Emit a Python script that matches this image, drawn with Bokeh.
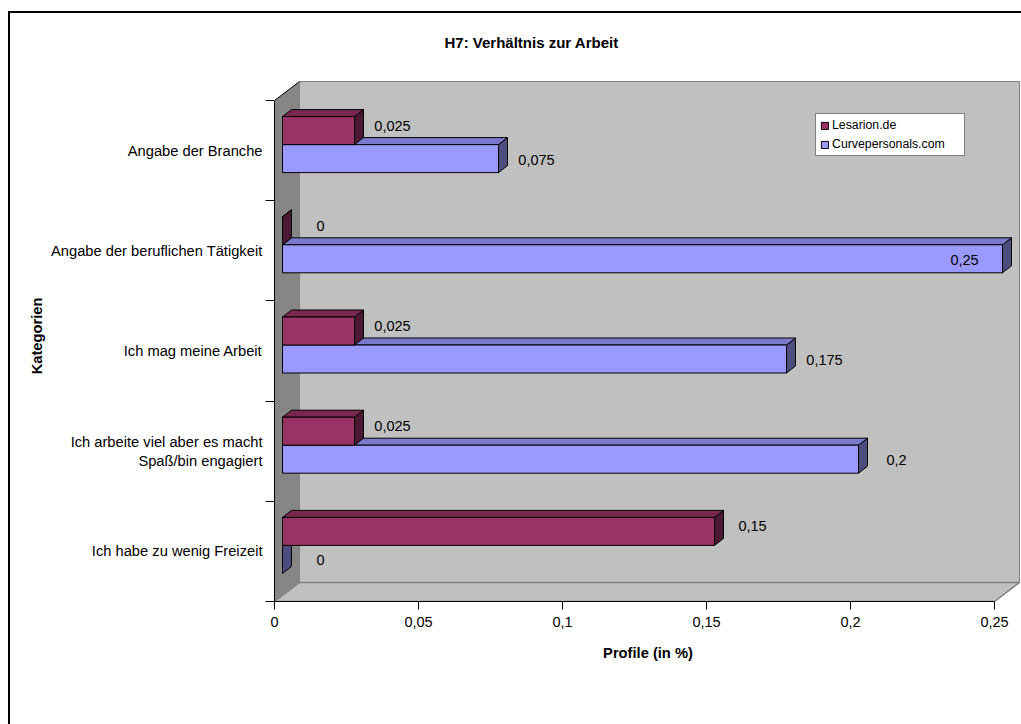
from bokeh.plotting import figure
from bokeh.models import (Range1d, FixedTicker, Legend, LegendItem, ColumnDataSource)
from bokeh.core.properties import value
from bokeh.embed import file_html
from bokeh.resources import INLINE

# ---------------- data ----------------
categories = [
    "Angabe der Branche",
    "Angabe der beruflichen Tätigkeit",
    "Ich mag meine Arbeit",
    "Ich arbeite viel aber es macht\nSpaß/bin engagiert",
    "Ich habe zu wenig Freizeit",
]
lesarion = [0.025, 0.0, 0.025, 0.025, 0.15]
curvepersonals = [0.075, 0.25, 0.175, 0.2, 0.0]
series_names = ["Lesarion.de", "Curvepersonals.com"]
x_ticks = [0.0, 0.05, 0.1, 0.15, 0.2, 0.25]
x_tick_labels = ["0", "0,05", "0,1", "0,15", "0,2", "0,25"]
title_text = "H7: Verhältnis zur Arbeit"
x_title = "Profile (in %)"
y_title = "Kategorien"

# ---------------- layout / style ----------------
W, H = 1021, 724
FL, FT, FB = 274, 70, 601
FR = W
X_MAX = x_ticks[-1]
PX_X = 720 / X_MAX          # pixels per x unit
PX_Y = 100.2                # pixels per category
n = len(categories)
FONT = "Liberation Sans"

def dx(px):
    return px / PX_X

def dy(px):
    return px / PX_Y

WALL = (25, 19)
FRONT = (8, 6)
BACK = (17, 13)
BAR_H = dy(28)

p = figure(width=W, height=H,
           x_range=Range1d(0, (FR - FL) / PX_X),
           y_range=Range1d(0, (FB - FT) / PX_Y),
           min_border_left=FL, min_border_right=0,
           min_border_top=FT, min_border_bottom=H - FB,
           output_backend="svg", toolbar_location=None)
p.outline_line_color = None
p.grid.visible = False
p.background_fill_color = "white"
p.border_fill_color = None
# outer chart-area border (left and top edges; the rest lies outside the window)
p.styles = {
    "background-color": "white",
    "box-shadow": "inset 8px 11px 0 0 white, inset 10px 13px 0 0 black",
}

# ---------------- 3D walls ----------------
p.quad(left=dx(WALL[0]), right=X_MAX + dx(WALL[0]), bottom=dy(WALL[1]), top=n + dy(WALL[1]),
       fill_color="#C0C0C0", line_color="#808080", line_width=1)
p.patch([0, dx(WALL[0]), dx(WALL[0]), 0], [0, dy(WALL[1]), n + dy(WALL[1]), n],
        fill_color="#868686", line_color=None)
p.segment(x0=[0], y0=[n], x1=[dx(WALL[0])], y1=[n + dy(WALL[1])], line_color="black", line_width=1)
p.patch([0, X_MAX, X_MAX + dx(WALL[0]), dx(WALL[0])], [0, 0, dy(WALL[1]), dy(WALL[1])],
        fill_color="#C0C0C0", line_color="#808080", line_width=1.5)

# ---------------- bars ----------------
def scale(c, f):
    c = c.lstrip("#")
    r, g, b = (int(c[i:i + 2], 16) for i in (0, 2, 4))
    return "#%02x%02x%02x" % (int(r * f), int(g * f), int(b * f))

series = [
    # (values, colour, position relative to category centre, label y offset)
    (curvepersonals, "#9999FF", -1, 1),
    (lesarion, "#993366", 0, -5),
]
front_renderers = {}
for vals, col, pos, yoff in series:
    fx, fy = dx(FRONT[0]), dy(FRONT[1])
    bx, by = dx(BACK[0]), dy(BACK[1])
    bottoms = [n - i - 0.5 + pos * BAR_H for i in range(n)]
    tops = [b + BAR_H for b in bottoms]
    # side faces
    side_xs = [[v + fx, v + bx, v + bx, v + fx] for v in vals]
    side_ys = [[b + fy, b + by, t + by, t + fy] for b, t in zip(bottoms, tops)]
    p.patches(side_xs, side_ys, fill_color=scale(col, 0.5), line_color="black", line_width=1)
    # top faces
    top_xs = [[fx, v + fx, v + bx, bx] for v in vals]
    top_ys = [[t + fy, t + fy, t + by, t + by] for t in tops]
    p.patches(top_xs, top_ys, fill_color=scale(col, 0.8), line_color="black", line_width=1)
    # front faces
    r = p.quad(left=[fx] * n, right=[v + fx for v in vals],
               bottom=[b + fy for b in bottoms], top=[t + fy for t in tops],
               fill_color=col, line_color="black", line_width=1)
    front_renderers[col] = r
    # value labels
    labels = [("%g" % v).replace(".", ",") for v in vals]
    inside = [v >= X_MAX for v in vals]
    src = ColumnDataSource(dict(
        x=[v + fx for v in vals],
        y=[(b + t) / 2 + fy for b, t in zip(bottoms, tops)],
        text=labels,
        xo=[-38 if ins else 38 for ins in inside],
    ))
    p.text(x="x", y="y", text="text", x_offset="xo", y_offset=yoff, source=src,
           text_align="center", text_baseline="middle", text_font_size="14.5px",
           text_color="black", text_font=value(FONT))

# ---------------- axes ----------------
xa = p.xaxis[0]
xa.ticker = FixedTicker(ticks=x_ticks)
xa.major_label_overrides = dict(zip(x_ticks, x_tick_labels))
xa.bounds = (0, X_MAX)
xa.major_tick_out = 8
xa.major_tick_in = 0
xa.minor_tick_out = 0
xa.minor_tick_in = 0
xa.axis_line_color = "black"
xa.major_tick_line_color = "black"
xa.major_label_standoff = 7
xa.major_label_text_font = FONT
xa.major_label_text_font_size = "14.5px"
xa.major_label_text_color = "black"
xa.axis_label = x_title
xa.axis_label_text_font = FONT
xa.axis_label_text_font_size = "14.7px"
xa.axis_label_text_font_style = "bold"
xa.axis_label_text_color = "black"
xa.axis_label_standoff = 15

centres = [n - i - 0.5 for i in range(n)]
ya = p.yaxis[0]
ya.ticker = FixedTicker(ticks=centres, minor_ticks=list(range(n + 1)))
ya.major_label_overrides = dict(zip(centres, categories))
ya.bounds = (0, n)
ya.major_tick_out = 0
ya.major_tick_in = 0
ya.minor_tick_out = 9
ya.minor_tick_in = 0
ya.minor_tick_line_color = "black"
ya.axis_line_color = "black"
ya.major_label_standoff = 3
ya.major_label_text_font = FONT
ya.major_label_text_font_size = "14.7px"
ya.major_label_text_color = "black"
ya.axis_label = y_title
ya.axis_label_text_font = FONT
ya.axis_label_text_font_size = "14.7px"
ya.axis_label_text_font_style = "bold"
ya.axis_label_text_color = "black"
ya.axis_label_standoff = 3

# ---------------- title ----------------
p.title.text = title_text
p.title.text_font = FONT
p.title.text_font_size = "15px"
p.title.text_font_style = "bold"
p.title.text_color = "black"
p.title.align = "left"
p.title.offset = 170
p.title.standoff = 40

# ---------------- legend ----------------
legend = Legend(items=[
    LegendItem(label=series_names[0], renderers=[front_renderers["#993366"]]),
    LegendItem(label=series_names[1], renderers=[front_renderers["#9999FF"]]),
], location=(541, 445), orientation="vertical")
legend.label_text_font = FONT
legend.label_text_font_size = "12.3px"
legend.label_text_color = "black"
legend.glyph_width = 9
legend.glyph_height = 9
legend.label_height = 14
legend.label_standoff = 3
legend.label_width = 128
legend.spacing = 5
legend.padding = 4
legend.margin = 0
legend.border_line_color = "black"
legend.border_line_width = 1
legend.background_fill_color = "white"
legend.background_fill_alpha = 1
p.add_layout(legend)

open("out.html", "w").write(file_html(p, INLINE))
